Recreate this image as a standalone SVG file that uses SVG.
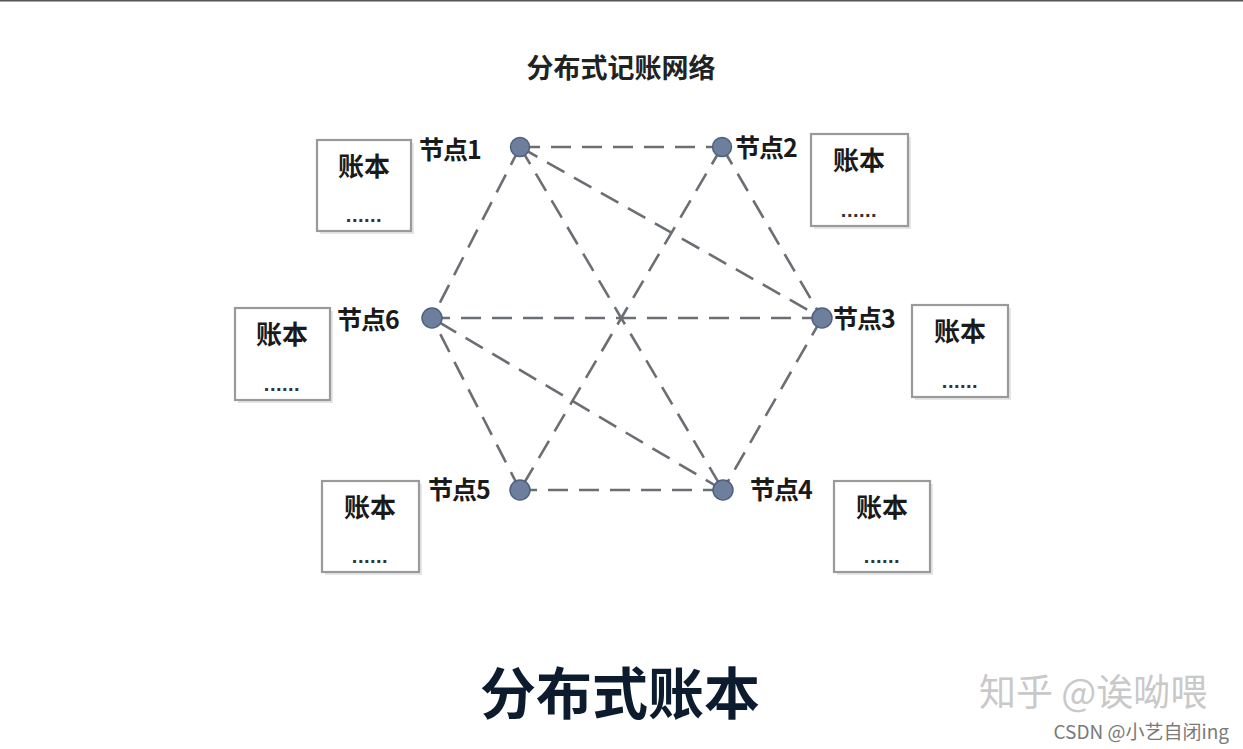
<svg xmlns="http://www.w3.org/2000/svg" width="1243" height="749" viewBox="0 0 1243 749">
<style>
.edge{stroke:#6b6f74;stroke-width:2.6;stroke-dasharray:20 11;fill:none}
.node{fill:#6d7f9c;stroke:#4f6180;stroke-width:1.5}
.box{fill:#fff;stroke:#9a9a9a;stroke-width:2.2}
.shadow{fill:#e6e6e6}
.lbl{font-family:"Noto Sans CJK SC","Noto Sans",sans-serif;font-weight:bold;font-size:25px;fill:#1a1a1a;letter-spacing:-1px}
.bk{font-family:"Noto Sans CJK SC",sans-serif;font-weight:bold;font-size:26px;fill:#1a1a1a;text-anchor:middle}
.dots{font-family:"Liberation Sans",sans-serif;font-weight:bold;font-size:20px;fill:#333;text-anchor:middle;letter-spacing:0.5px}
</style>
<rect width="1243" height="749" fill="#fff"/>
<rect x="0" y="0" width="1243" height="1.5" fill="#555"/>
<text x="621" y="78" text-anchor="middle" font-family="Noto Sans CJK SC,sans-serif" font-weight="bold" font-size="27" fill="#222">分布式记账网络</text>
<g id="connectors">
<line class="edge" x1="520" y1="147" x2="722" y2="147"/>
<line class="edge" x1="520" y1="147" x2="822" y2="318"/>
<line class="edge" x1="520" y1="147" x2="723" y2="490"/>
<line class="edge" x1="520" y1="147" x2="432" y2="318"/>
<line class="edge" x1="722" y1="147" x2="822" y2="318"/>
<line class="edge" x1="722" y1="147" x2="520" y2="490"/>
<line class="edge" x1="822" y1="318" x2="723" y2="490"/>
<line class="edge" x1="822" y1="318" x2="432" y2="318"/>
<line class="edge" x1="723" y1="490" x2="520" y2="490"/>
<line class="edge" x1="723" y1="490" x2="432" y2="318"/>
<line class="edge" x1="520" y1="490" x2="432" y2="318"/>
</g>
<g id="node1">
<circle class="node" cx="520" cy="147" r="9.5"/>
<text class="lbl" x="419" y="159">节点1</text>
<rect class="shadow" x="320" y="143" width="94" height="91"/>
<rect class="box" x="317" y="140" width="94" height="91"/>
<text class="bk" x="364" y="176">账本</text>
<text class="dots" x="364" y="222">......</text>
</g>
<g id="node2">
<circle class="node" cx="722" cy="147" r="9.5"/>
<text class="lbl" x="735" y="157">节点2</text>
<rect class="shadow" x="814" y="137" width="97" height="92"/>
<rect class="box" x="811" y="134" width="97" height="92"/>
<text class="bk" x="859" y="170">账本</text>
<text class="dots" x="859" y="217">......</text>
</g>
<g id="node3">
<circle class="node" cx="822" cy="318" r="10"/>
<text class="lbl" x="833" y="328">节点3</text>
<rect class="shadow" x="915" y="308" width="96" height="92"/>
<rect class="box" x="912" y="305" width="96" height="92"/>
<text class="bk" x="960" y="341">账本</text>
<text class="dots" x="960" y="388">......</text>
</g>
<g id="node4">
<circle class="node" cx="723" cy="490" r="10"/>
<text class="lbl" x="750" y="499">节点4</text>
<rect class="shadow" x="837" y="484" width="96" height="91"/>
<rect class="box" x="834" y="481" width="96" height="91"/>
<text class="bk" x="882" y="517">账本</text>
<text class="dots" x="882" y="563">......</text>
</g>
<g id="node5">
<circle class="node" cx="520" cy="490" r="10"/>
<text class="lbl" x="428" y="499">节点5</text>
<rect class="shadow" x="325" y="484" width="97" height="91"/>
<rect class="box" x="322" y="481" width="97" height="91"/>
<text class="bk" x="370" y="517">账本</text>
<text class="dots" x="370" y="563">......</text>
</g>
<g id="node6">
<circle class="node" cx="432" cy="318" r="10"/>
<text class="lbl" x="337" y="329">节点6</text>
<rect class="shadow" x="238" y="311" width="95" height="92"/>
<rect class="box" x="235" y="308" width="95" height="92"/>
<text class="bk" x="282" y="344">账本</text>
<text class="dots" x="282" y="391">......</text>
</g>
<text x="620" y="714" text-anchor="middle" font-family="Noto Sans CJK SC,sans-serif" font-weight="bold" font-size="56" fill="#0d1b2e">分布式账本</text>
<text x="979" y="706" font-family="Noto Sans CJK SC,sans-serif" font-size="37" fill="#c9c9c9">知乎 @诶呦喂</text>
<text x="1229" y="739" text-anchor="end" font-family="Noto Sans CJK SC,sans-serif" font-size="19" fill="#7a7a7a">CSDN @小艺自闭ing</text>
</svg>
